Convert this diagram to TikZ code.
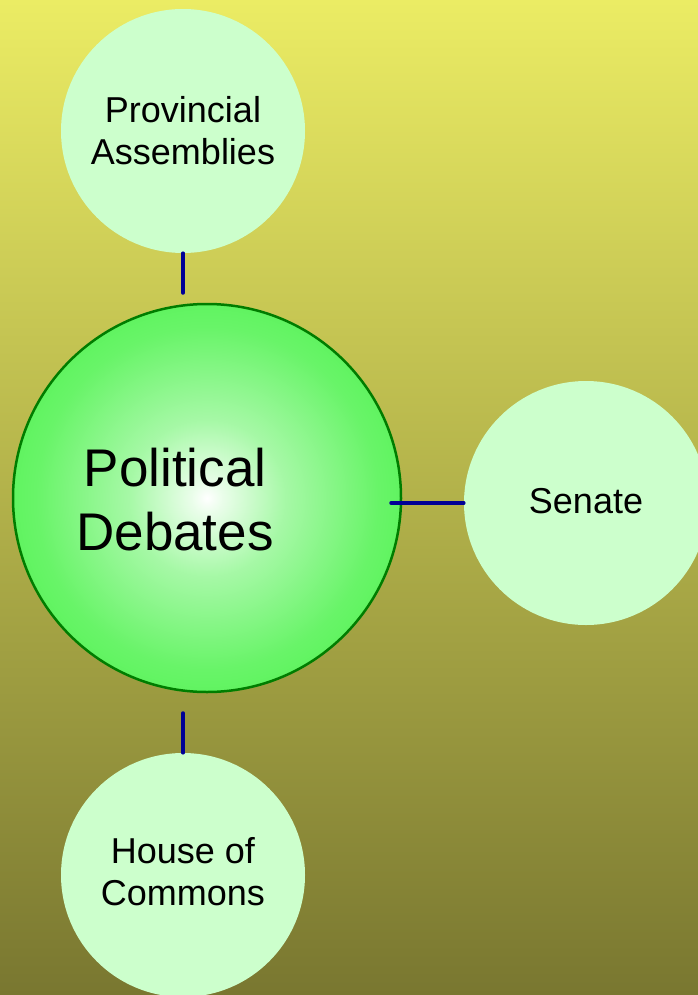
\documentclass[tikz,border=0pt]{standalone}
\usepackage{fontspec}
\setmainfont{Liberation Sans}
\definecolor{bgtop}{RGB}{235,236,100}
\definecolor{bgbot}{RGB}{121,119,48}
\definecolor{lightgr}{RGB}{204,255,204}
\definecolor{maingr}{RGB}{78,242,78}
\definecolor{mainborder}{RGB}{0,125,0}
\definecolor{linkblue}{RGB}{0,0,150}
\pgfdeclareradialshading{mainglow}{\pgfpoint{0bp}{0bp}}{color(0bp)=(white); color(2bp)=(white!88!maingr); color(10bp)=(white!50!maingr); color(22bp)=(white!15!maingr); color(32bp)=(maingr); color(50bp)=(maingr)}
\tikzset{
  side/.style={circle, fill=lightgr, draw=none, minimum size=244pt, inner sep=0pt},
  sidetext/.style={align=center, inner sep=0pt, font=\fontsize{36}{42}\selectfont},
  link/.style={draw=linkblue, line width=3.5pt, line cap=round}
}
\begin{document}
\begin{tikzpicture}[x=1pt, y=-1pt]
\useasboundingbox (0,0) rectangle (698,995);
\shade[top color=bgtop, bottom color=bgbot] (0,0) rectangle (698,995);
% main circle
\node[circle, minimum size=388pt, inner sep=0pt, shading=mainglow, draw=mainborder, line width=2.5pt] (main) at (207,498) {};
\node[align=center, inner sep=0pt, font=\fontsize{53}{64}\selectfont] (mainlbl) at (175,500) {Political\\Debates};
% side circles
\node[side] (prov) at (183,131) {};
\node[sidetext] (provlbl) at (183,131) {Provincial\\Assemblies};
\node[side] (senate) at (586,503) {};
\node[sidetext] (senatelbl) at (586,501) {Senate};
\node[side] (house) at (183,875) {};
\node[sidetext] (houselbl) at (183,872) {House of\\Commons};
% connector ends
\coordinate (c1) at (183,293);
\coordinate (c2) at (391,503);
\coordinate (c3) at (183,713);
\draw[link] (prov.south) -- (c1);
\draw[link] (senate.west) -- (c2);
\draw[link] (house.north) -- (c3);
\end{tikzpicture}
\end{document}
